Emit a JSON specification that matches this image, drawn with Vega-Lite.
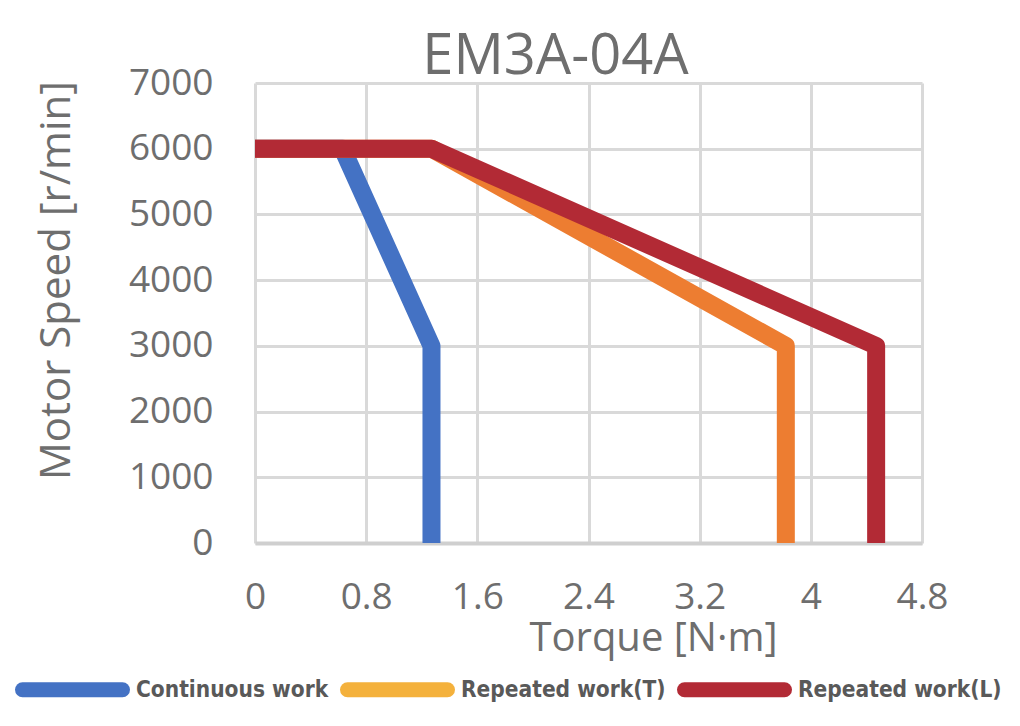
{
  "$schema": "https://vega.github.io/schema/vega-lite/v6.json",
  "width": 667,
  "height": 460,
  "autosize": {"type": "none"},
  "padding": {"left": 255, "top": 83, "right": 98, "bottom": 183},
  "background": "white",
  "config": {
    "view": {"stroke": null},
    "font": "Open Sans"
  },
  "title": {
    "text": "EM3A-04A",
    "fontSize": 56,
    "fontWeight": "normal",
    "font": "Open Sans",
    "color": "#6e6e6e",
    "anchor": "middle",
    "dx": -33,
    "dy": 26,
    "offset": 4
  },
  "data": {
    "values": [
      {"series": "Continuous work", "i": 0, "torque": 0, "speed": 6000},
      {"series": "Continuous work", "i": 1, "torque": 0.63, "speed": 6000},
      {"series": "Continuous work", "i": 2, "torque": 1.27, "speed": 3000},
      {"series": "Continuous work", "i": 3, "torque": 1.27, "speed": 0},
      {"series": "Repeated work(T)", "i": 0, "torque": 0, "speed": 6000},
      {"series": "Repeated work(T)", "i": 1, "torque": 1.27, "speed": 6000},
      {"series": "Repeated work(T)", "i": 2, "torque": 3.82, "speed": 3000},
      {"series": "Repeated work(T)", "i": 3, "torque": 3.82, "speed": 0},
      {"series": "Repeated work(L)", "i": 0, "torque": 0, "speed": 6000},
      {"series": "Repeated work(L)", "i": 1, "torque": 1.27, "speed": 6000},
      {"series": "Repeated work(L)", "i": 2, "torque": 4.47, "speed": 3000},
      {"series": "Repeated work(L)", "i": 3, "torque": 4.47, "speed": 0}
    ]
  },
  "encoding": {
    "x": {
      "field": "torque",
      "type": "quantitative",
      "scale": {"domain": [0, 4.8], "nice": false},
      "axis": {
        "values": [0, 0.8, 1.6, 2.4, 3.2, 4, 4.8],
        "format": ".2~f",
        "title": "Torque [N·m]",
        "titleX": 398,
        "titleFontSize": 40,
        "titleFontWeight": "normal",
        "titleColor": "#6e6e6e",
        "titlePadding": 3,
        "labelFontSize": 37,
        "labelColor": "#6e6e6e",
        "labelPadding": 36,
        "labelFlush": false,
        "labelOverlap": false,
        "ticks": false,
        "grid": true,
        "gridColor": "#d9d9d9",
        "gridWidth": 3,
        "domainColor": "#cfcfcf",
        "domainWidth": 4
      }
    },
    "y": {
      "field": "speed",
      "type": "quantitative",
      "scale": {"domain": [0, 7000], "nice": false},
      "axis": {
        "values": [0, 1000, 2000, 3000, 4000, 5000, 6000, 7000],
        "format": "d",
        "title": "Motor Speed [r/min]",
        "titleY": 197,
        "titleFontSize": 42,
        "titleFontWeight": "normal",
        "titleColor": "#6e6e6e",
        "titlePadding": 50,
        "labelFontSize": 37,
        "labelColor": "#6e6e6e",
        "labelPadding": 42,
        "ticks": false,
        "domain": false,
        "grid": true,
        "gridColor": "#d9d9d9",
        "gridWidth": 3
      }
    },
    "order": {"field": "i", "type": "quantitative"}
  },
  "layer": [
    {
      "transform": [{"filter": "datum.series == 'Continuous work'"}],
      "mark": {"type": "line", "stroke": "#4472c4", "strokeWidth": 18, "strokeJoin": "round", "strokeCap": "butt"}
    },
    {
      "transform": [{"filter": "datum.series == 'Repeated work(T)'"}],
      "mark": {"type": "line", "stroke": "#ed7d31", "strokeWidth": 18, "strokeJoin": "round", "strokeCap": "butt"}
    },
    {
      "transform": [{"filter": "datum.series == 'Repeated work(L)'"}],
      "mark": {"type": "line", "stroke": "#b22a35", "strokeWidth": 18, "strokeJoin": "round", "strokeCap": "butt"}
    },
    {
      "transform": [{"filter": "false"}],
      "mark": {"type": "line"},
      "encoding": {
        "color": {
          "field": "series",
          "type": "nominal",
          "scale": {
            "domain": ["Continuous work", "Repeated work(T)", "Repeated work(L)"],
            "range": ["#4472c4", "#f4b13c", "#b22a35"]
          },
          "legend": {
            "title": null,
            "orient": "none",
            "legendX": -240,
            "legendY": 549,
            "direction": "horizontal",
            "columns": 3,
            "columnPadding": -12,
            "symbolType": "stroke",
            "symbolSize": 10000,
            "symbolStrokeWidth": 15,
            "symbolOpacity": 1,
            "labelOffset": 6,
            "labelFont": "DejaVu Sans Condensed",
            "labelFontWeight": "bold",
            "labelFontSize": 22.5,
            "labelColor": "#595959",
            "labelLimit": 400,
            "encode": {"symbols": {"update": {"strokeCap": {"value": "round"}}}}
          }
        }
      }
    }
  ]
}
